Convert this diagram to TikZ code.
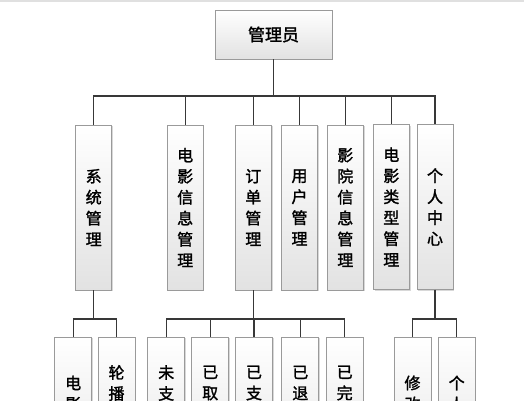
\documentclass[tikz,border=0pt]{standalone}
\usepackage{fontspec}
\setmainfont{Noto Sans CJK SC}[FakeBold=1.6]
\usetikzlibrary{shadows}
\definecolor{boxline}{HTML}{9A9A9A}
\definecolor{boxbot}{HTML}{E2E2E2}
\definecolor{wire}{HTML}{383838}
\tikzset{
  box/.style={draw=boxline, line width=0.9pt, top color=white, bottom color=boxbot,
    drop shadow={shadow xshift=1.2pt, shadow yshift=-1.2pt, fill=black!25, opacity=0.6},
    inner sep=0pt, align=center, text=black},
  topbox/.style={box, minimum width=117pt, minimum height=49pt, font=\fontsize{17}{20}\selectfont},
  midbox/.style={box, minimum width=36pt, minimum height=165pt, text width=36pt, font=\fontsize{16}{21}\selectfont},
  lowbox/.style={box, minimum width=37pt, minimum height=155pt},
  lowtext/.style={inner sep=0pt, align=center, text width=37pt, font=\fontsize{16}{21}\selectfont},
  wire/.style={draw=wire, line width=1.15pt}
}
\begin{document}
\begin{tikzpicture}[x=1pt,y=-1pt]
\useasboundingbox (0,0) rectangle (524,400);
\clip (0,0) rectangle (524,400);
\fill[white] (0,0) rectangle (524,400);
\draw[black!12, line width=1.6pt] (0,1) -- (524,1);

\node[topbox] (top) at (273.5,34.5) {管理员};

\node[midbox] (sys)  at (93.7,207.5)  {系\\统\\管\\理};
\node[midbox] (minfo) at (185.2,207.5) {电\\影\\信\\息\\管\\理};
\node[midbox] (order) at (253.3,207.5) {订\\单\\管\\理};
\node[midbox] (user) at (299.5,207.5) {用\\户\\管\\理};
\node[midbox] (cine) at (345.3,207.5) {影\\院\\信\\息\\管\\理};
\node[midbox] (type) at (391.3,207) {电\\影\\类\\型\\管\\理};
\node[midbox] (pers) at (435,207) {个\\人\\中\\心};

\node[lowbox] (a) at (73.2,414.5) {};
\node[lowbox] (b) at (116.5,414.5) {};
\node[lowbox] (c) at (166.2,414.5) {};
\node[lowbox] (d) at (210.2,414.5) {};
\node[lowbox] (e) at (254,414.5) {};
\node[lowbox] (f) at (300.3,414.5) {};
\node[lowbox] (g) at (344.7,414.5) {};
\node[lowbox] (h) at (412.5,414.5) {};
\node[lowbox] (i) at (456.7,414.5) {};

\node[lowtext] (ta) at ([yshift=21pt]a.center) {电\\影};
\node[lowtext] (tb) at ([yshift=31.5pt]b.center) {轮\\播};
\node[lowtext] (tc) at ([yshift=31.5pt]c.center) {未\\支};
\node[lowtext] (td) at ([yshift=31.5pt]d.center) {已\\取};
\node[lowtext] (te) at ([yshift=31.5pt]e.center) {已\\支};
\node[lowtext] (tf) at ([yshift=31.5pt]f.center) {已\\退};
\node[lowtext] (tg) at ([yshift=31.5pt]g.center) {已\\完};
\node[lowtext] (th) at ([yshift=21pt]h.center) {修\\改};
\node[lowtext] (ti) at ([yshift=21pt]i.center) {个\\人};

\coordinate (bar) at (273.5,96);
\coordinate (bar3) at (0,319);

\foreach \n in {sys,minfo,order,user,cine,type,pers}
  \draw[wire] (top.south) -- (top.south |- bar) -| (\n.north);

\foreach \n in {a,b}
  \draw[wire] (sys.south) -- (sys.south |- bar3) -| (\n.north);
\foreach \n in {c,d,e,f,g}
  \draw[wire] (order.south) -- (order.south |- bar3) -| (\n.north);
\foreach \n in {h,i}
  \draw[wire] (pers.south) -- (pers.south |- bar3) -| (\n.north);
\end{tikzpicture}
\end{document}
